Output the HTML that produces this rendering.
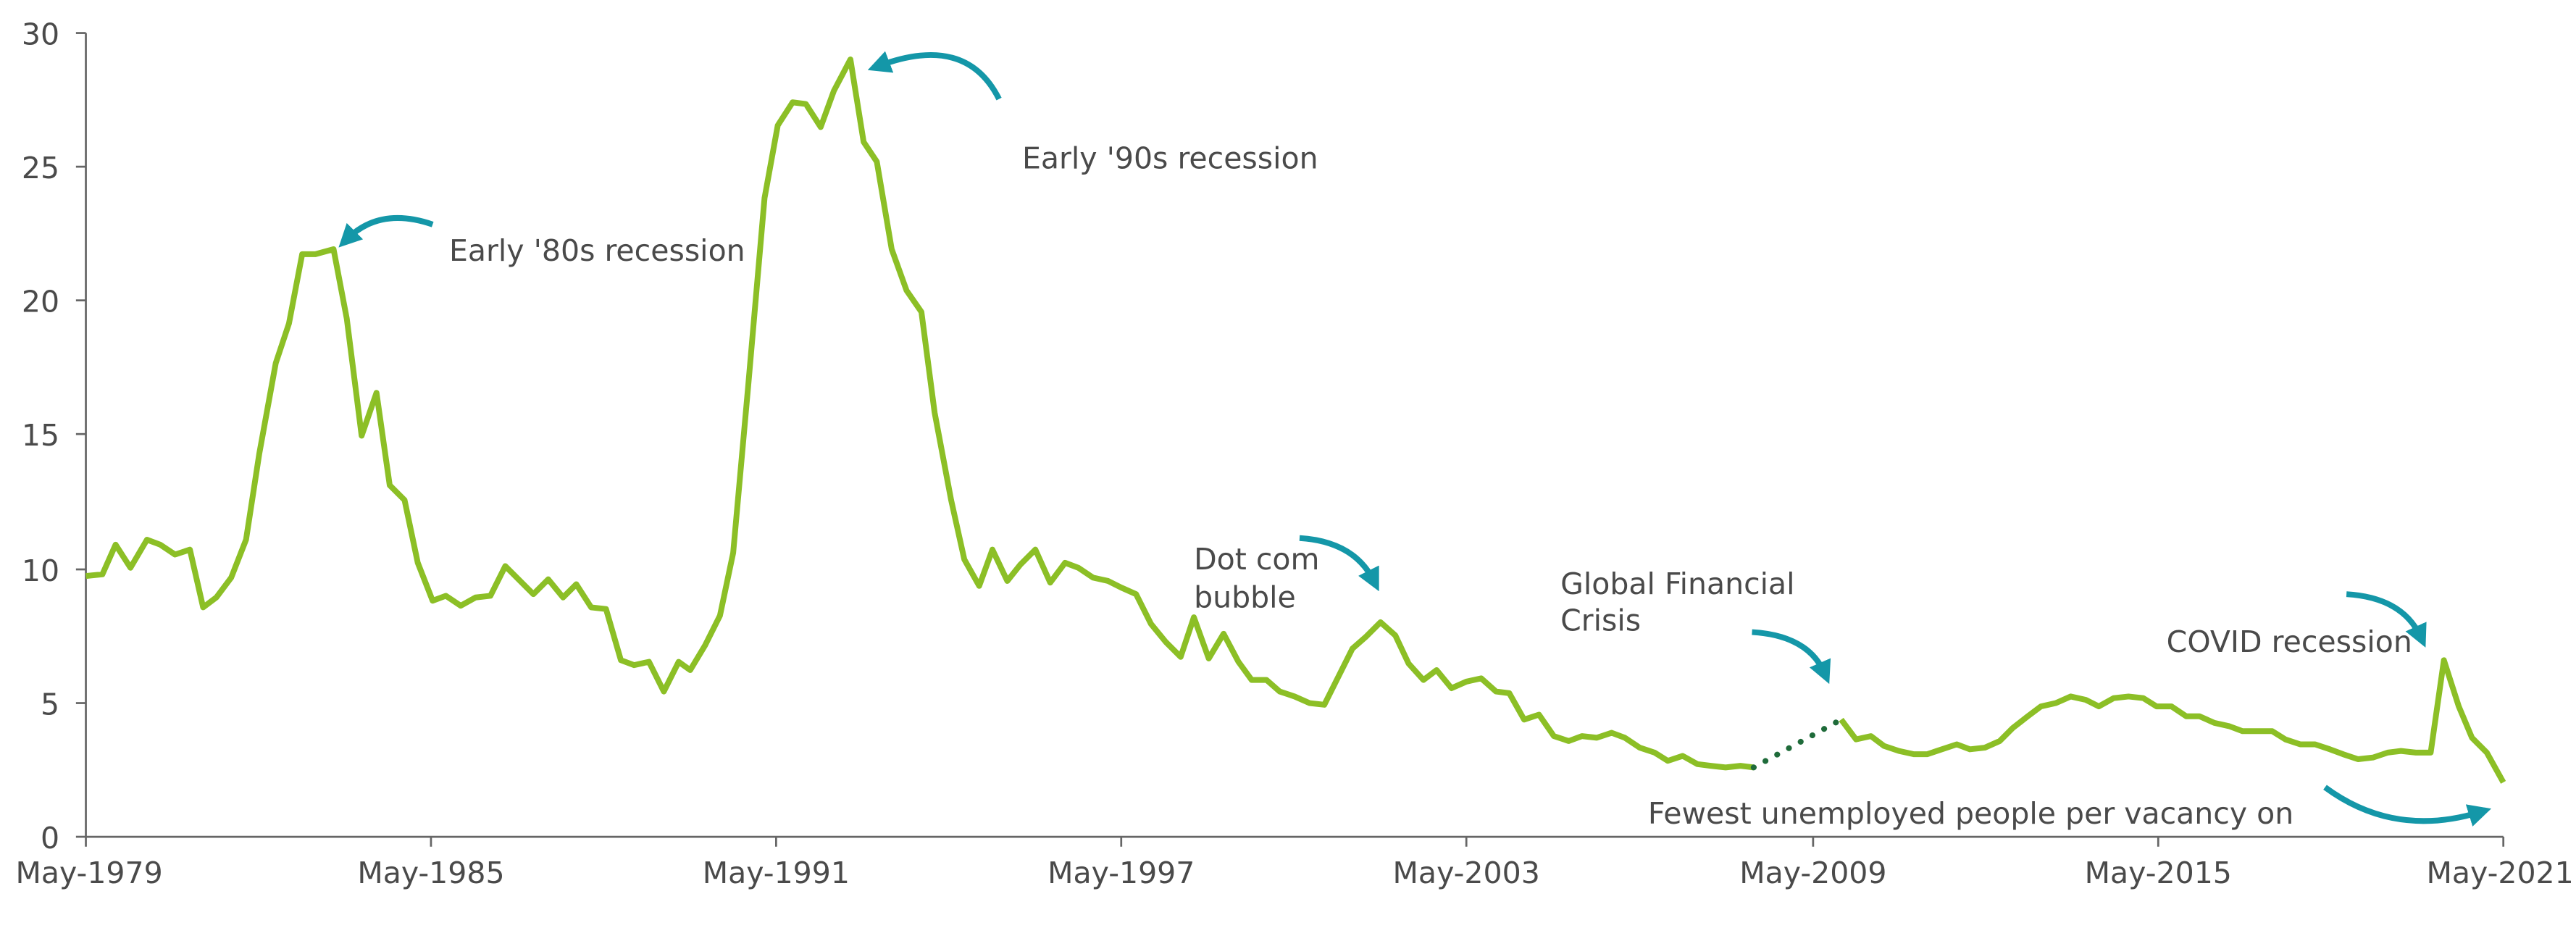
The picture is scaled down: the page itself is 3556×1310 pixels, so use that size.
<!DOCTYPE html>
<html><head><style>
html,body{margin:0;padding:0;background:#fff;}
svg{display:block;}
text{font-family:"DejaVu Sans","Liberation Sans",sans-serif;fill:#4a4a4a;}
</style></head><body>
<svg width="3556" height="1310" viewBox="0 0 1560 575" preserveAspectRatio="none" xmlns="http://www.w3.org/2000/svg">
<defs>
<marker id="ah" markerWidth="4" markerHeight="4" refX="2" refY="2" orient="auto" markerUnits="strokeWidth">
<path d="M0,0 L4,2 L0,4 z" fill="#1497a8"/>
</marker>
</defs>
<g stroke="#666" stroke-width="1.2">
<line x1="52" y1="20" x2="52" y2="507"/>
<line x1="52" y1="507" x2="1516" y2="507"/>
<line x1="46" y1="20" x2="52" y2="20"/><line x1="46" y1="101" x2="52" y2="101"/><line x1="46" y1="182" x2="52" y2="182"/><line x1="46" y1="263" x2="52" y2="263"/><line x1="46" y1="345" x2="52" y2="345"/><line x1="46" y1="426" x2="52" y2="426"/><line x1="46" y1="507" x2="52" y2="507"/>
<line x1="52" y1="507" x2="52" y2="513"/><line x1="261" y1="507" x2="261" y2="513"/><line x1="470" y1="507" x2="470" y2="513"/><line x1="679" y1="507" x2="679" y2="513"/><line x1="888" y1="507" x2="888" y2="513"/><line x1="1098" y1="507" x2="1098" y2="513"/><line x1="1307" y1="507" x2="1307" y2="513"/><line x1="1516" y1="507" x2="1516" y2="513"/>
</g>
<g font-size="18" text-anchor="end">
<text x="36" y="27">30</text><text x="36" y="108">25</text><text x="36" y="189">20</text><text x="36" y="270">15</text><text x="36" y="352">10</text><text x="36" y="433">5</text><text x="36" y="514">0</text>
</g>
<g font-size="18" text-anchor="middle">
<text x="54" y="535">May-1979</text><text x="261" y="535">May-1985</text><text x="470" y="535">May-1991</text><text x="679" y="535">May-1997</text><text x="888" y="535">May-2003</text><text x="1098" y="535">May-2009</text><text x="1307" y="535">May-2015</text><text x="1514" y="535">May-2021</text>
</g>
<polyline fill="none" stroke="#8cbf26" stroke-width="3.5" stroke-linejoin="round" points="52,349 62,348 70,330 79,344 89,327 97,330 106,336 115,333 123,368 131,362 140,350 149,327 157,275 167,220 175,196 183,154 191,154 202,151 210,193 219,264 228,238 236,294 245,303 253,341 262,364 270,361 279,367 288,362 297,361 306,343 314,351 323,360 332,351 341,362 349,354 358,368 367,369 376,400 384,403 393,401 402,419 411,401 418,406 427,391 436,373 444,335 453,235 463,120 471,76 480,62 488,63 497,77 505,55 515,36 523,86 531,98 540,151 549,176 558,189 566,250 576,303 584,339 593,355 601,333 610,352 618,342 627,333 636,353 645,341 653,344 662,350 671,352 679,356 688,360 697,378 706,389 715,398 723,374 732,399 741,384 750,401 758,412 767,412 775,419 784,422 793,426 802,427 810,411 819,393 827,386 836,377 845,385 853,402 862,412 870,406 879,417 888,413 897,411 906,419 914,420 923,436 932,433 941,446 950,449 958,446 967,447 976,444 984,447 993,453 1002,456 1010,461 1019,458 1028,463 1036,464 1045,465 1054,464 1062,465"/>
<line x1="1062" y1="465" x2="1115" y2="436" stroke="#1f6b3a" stroke-width="3.5" stroke-dasharray="0.1,8" stroke-linecap="round"/>
<polyline fill="none" stroke="#8cbf26" stroke-width="3.5" stroke-linejoin="round" points="1115,436 1124,448 1133,446 1141,452 1150,455 1159,457 1167,457 1176,454 1185,451 1193,454 1202,453 1211,449 1219,441 1228,434 1236,428 1245,426 1254,422 1263,424 1271,428 1280,423 1289,422 1298,423 1306,428 1315,428 1324,434 1332,434 1341,438 1350,440 1358,443 1367,443 1376,443 1384,448 1393,451 1402,451 1411,454 1419,457 1428,460 1437,459 1446,456 1454,455 1463,456 1472,456 1480,400 1489,428 1497,447 1506,456 1516,474"/>
<g fill="none" stroke="#1497a8" stroke-width="3.5" marker-end="url(#ah)">
<path d="M262,136 Q230,125 210,145"/>
<path d="M605,60 Q585,20 532,40"/>
<path d="M787,326 Q820,328 832,352"/>
<path d="M1061,383 Q1095,385 1105,408"/>
<path d="M1421,360 Q1455,362 1466,386"/>
<path d="M1408,477 Q1450,508 1502,492"/>
</g>
<g font-size="18">
<text x="272" y="158">Early '80s recession</text>
<text x="619" y="102">Early '90s recession</text>
<text x="723" y="345">Dot com</text><text x="723" y="368">bubble</text>
<text x="945" y="360">Global Financial</text><text x="945" y="382">Crisis</text>
<text x="1312" y="395">COVID recession</text>
<text x="998" y="499">Fewest unemployed people per vacancy on</text>
</g>
</svg>
</body></html>
